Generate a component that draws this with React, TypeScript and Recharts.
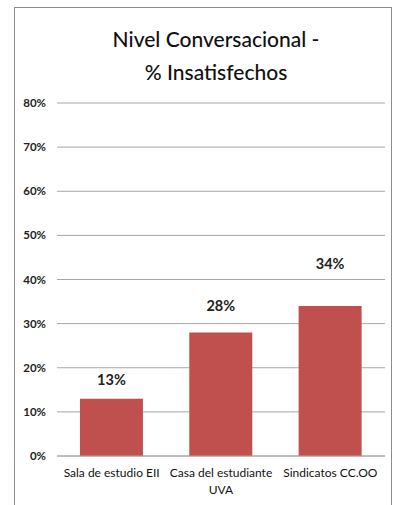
import { BarChart, Bar, XAxis, YAxis, CartesianGrid, LabelList } from 'recharts'

const categories = ['Sala de estudio EII', 'Casa del estudiante\nUVA', 'Sindicatos CC.OO']
const insatisfechos = [13, 28, 34]
const yTicks = [0, 10, 20, 30, 40, 50, 60, 70, 80]

const data = categories.map((name, i) => ({ name, value: insatisfechos[i] }))

// Excel placed the labels at uneven heights above the bars
const labelGap = [14, 21, 37]

const font = 'Lato, "Open Sans", sans-serif'

function CategoryTick({ x, y, payload }: any) {
  const lines = String(payload.value).split('\n')
  return (
    <text x={x} y={y + 13} textAnchor="middle" fontSize={12} fill="#111" fontFamily={font}>
      {lines.map((l, i) => (
        <tspan key={i} x={x} dy={i === 0 ? 0 : 17}>
          {l}
        </tspan>
      ))}
    </text>
  )
}

function ValueLabel({ x, y, width, value, index }: any) {
  return (
    <text
      x={x + width / 2}
      y={y - labelGap[index]}
      textAnchor="middle"
      fontSize={14.5}
      fontWeight="bold"
      fill="#222"
      fontFamily={font}
    >
      {value}%
    </text>
  )
}

export default function App() {
  return (
    <div style={{ position: 'fixed', left: 0, top: 0, width: 395, height: 505, background: '#fff', fontFamily: font }}>
      <div style={{ position: 'absolute', left: 14, top: 7, width: 376, height: 498, borderLeft: '1px solid #8c8c8c', borderTop: '1px solid #8c8c8c', borderRight: '1px solid #8c8c8c' }} />
      <div style={{ position: 'absolute', left: 14, top: 22, width: 404, textAlign: 'center', fontSize: 21, lineHeight: '33px', color: '#111', fontWeight: 500 }}>
        Nivel Conversacional -<br />% Insatisfechos
      </div>
      <BarChart width={395} height={505} data={data} margin={{ top: 103, right: 10, bottom: 19, left: 0 }} barCategoryGap="21%">
        <CartesianGrid vertical={false} stroke="#a6a6a6" />
        <XAxis dataKey="name" height={30} tickLine={false} axisLine={{ stroke: '#a6a6a6' }} tick={<CategoryTick />} interval={0} />
        <YAxis
          width={57}
          domain={[0, 80]}
          ticks={yTicks}
          tickFormatter={(v) => `${v}%`}
          axisLine={false}
          tickLine={false}
          tickSize={0}
          tickMargin={11}
          tick={{ fontSize: 11.5, fontWeight: 'bold', fill: '#222', fontFamily: font }}
        />
        <Bar dataKey="value" fill="#c0504d" isAnimationActive={false}>
          <LabelList dataKey="value" content={<ValueLabel />} />
        </Bar>
      </BarChart>
    </div>
  )
}
